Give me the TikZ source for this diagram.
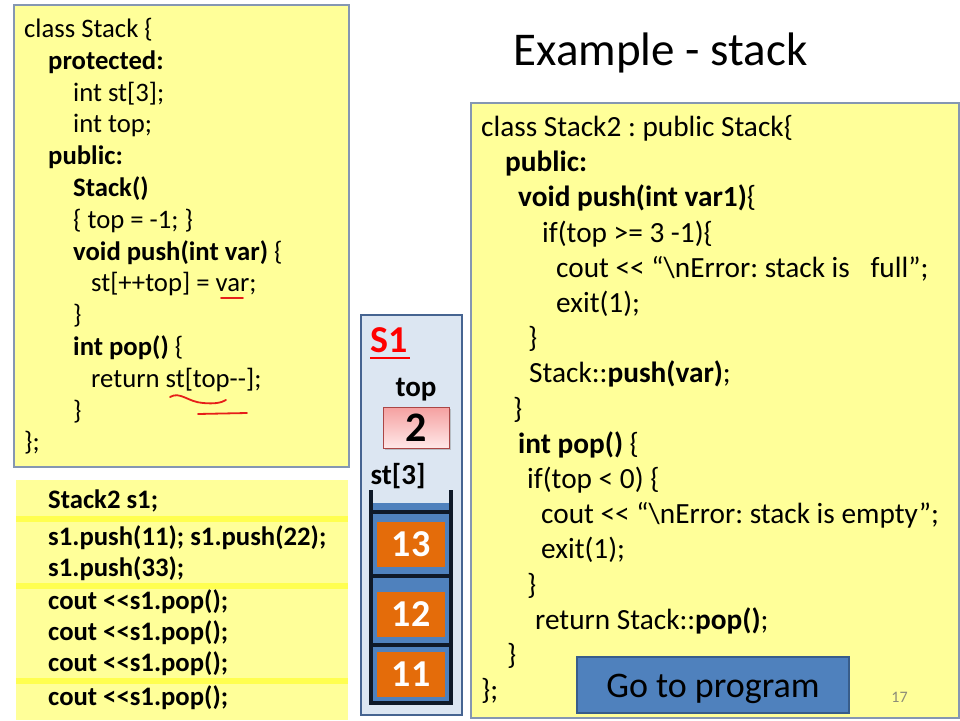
\documentclass[tikz,border=0pt]{standalone}
\usepackage{fontspec}
\newfontfamily\calibri{Carlito}
\usetikzlibrary{positioning,shadows}
\frenchspacing
\definecolor{paleyel}{RGB}{255,255,153}
\definecolor{bandyel}{RGB}{255,255,80}
\definecolor{boxedge}{RGB}{133,151,178}
\definecolor{stackbg}{RGB}{220,230,242}
\definecolor{stackedge}{RGB}{70,100,145}
\definecolor{cellblue}{RGB}{79,129,189}
\definecolor{cellorange}{RGB}{228,108,10}
\definecolor{wallc}{RGB}{15,25,40}
\definecolor{penred}{RGB}{230,30,25}
\definecolor{btnedge}{RGB}{56,93,138}
\definecolor{pinktop}{RGB}{245,160,160}
\definecolor{pinkbot}{RGB}{255,232,232}
\definecolor{pagegray}{RGB}{140,140,120}

\begin{document}
\begin{tikzpicture}[x=1pt,y=-1pt,font=\calibri,
codeln/.style={anchor=base west,inner sep=0pt,font=\calibri\fontsize{26.7}{32}\selectfont},
drvln/.style={codeln,font=\calibri\fontsize{29.3}{35}\selectfont},
useln/.style={codeln,font=\calibri\bfseries\fontsize{26.7}{32}\selectfont},
lbl/.style={anchor=base,inner sep=0pt,font=\calibri\bfseries\fontsize{29}{32}\selectfont},
cell/.style={fill=cellorange,text=white,minimum width=68pt,minimum height=45pt,
 inner sep=0pt,font=\calibri\bfseries\fontsize{38}{40}\selectfont},
topbox/.style={draw={rgb,255:red,170;green,70;blue,70},line width=0.8pt,top color=pinktop,
 bottom color=pinkbot,minimum width=66pt,minimum height=41pt,inner sep=0pt,
 drop shadow={opacity=0.4,shadow xshift=1.5pt,shadow yshift=-2pt},
 font=\calibri\bfseries\fontsize{42}{44}\selectfont},
wall/.style={wallc,line width=4pt},
pen/.style={penred,line width=1.8pt,line cap=round}]
\useasboundingbox (0,0) rectangle (960,720);
\fill[white] (0,0) rectangle (960,720);

% boxes
\draw[boxedge,fill=paleyel,line width=1.2pt] (14,5) rectangle (349,467);
\fill[paleyel] (16,480) rectangle (348,720);
\foreach \y in {518.5,585.5,680.5}
 \fill[bandyel] (16,\y-3) rectangle (348,\y+3);
\draw[boxedge,fill=paleyel,line width=1.2pt] (471,103) rectangle (959,718);
\draw[stackedge,fill=stackbg,line width=2.5pt] (361,315) rectangle (462,715);

\node[anchor=base,inner sep=0pt,font=\calibri\fontsize{47}{50}\selectfont] (title)
 at (660.5,65) {Example - stack};

% class Stack
\foreach \i/\dx/\txt in {0/24/{class Stack \{},1/48/{\textbf{protected:}},
 2/73/{int st[3];},3/73/{int top;},4/48/{\textbf{public:}},5/73/{\textbf{Stack()}},
 6/73/{\{ top = -1; \}},7/73/{\textbf{void push(int var)} \{},8/91/{st[++top] = var;},
 9/73/{\}},10/73/{\textbf{int pop()} \{},11/91/{return st[top--];},12/73/{\}},13/24/{\};}}
 \node[codeln] (cls\i) at (\dx,37.5+31.8*\i) {\txt};

\draw[pen] (221,298) -- (243,298);
\draw[pen] (170,397) .. controls (180,391) and (188,402) .. (203,403)
 .. controls (214,404) and (221,403) .. (226,400);
\draw[pen] (198,414) -- (247,413);

% class Stack2
\foreach \i/\dx/\txt in {0/481/{class Stack2 : public Stack\{},1/505/{\textbf{public:}},
 2/518/{\textbf{void push(int var1)}\{},3/542/{if(top >= 3 -1)\{},
 4/556/{cout << “\textbackslash nError: stack is\hspace{14pt} full”;},5/556/{exit(1);},
 6/528/{\}},7/529/{Stack::\textbf{push(var)};},8/513/{\}},9/518/{\textbf{int pop()} \{},
 10/527/{if(top < 0) \{},11/541/{cout << “\textbackslash nError: stack is empty”;},
 12/541/{exit(1);},13/527/{\}},14/535/{return Stack::\textbf{pop()};},15/507/{\}},
 16/481/{\};}}
 \node[drvln] (drv\i) at (\dx,136.5+35.2*\i) {\txt};

% main
\foreach \i/\y/\txt in {0/508/{Stack2 s1;},1/545/{s1.push(11); s1.push(22);},
 2/576/{s1.push(33);},3/609/{cout <<s1.pop();},4/640/{cout <<s1.pop();},
 5/671/{cout <<s1.pop();},6/705/{cout <<s1.pop();}}
 \node[useln] (use\i) at (48,\y) {\txt};

% object s1
\node[anchor=base west,inner sep=0pt,text=red,font=\calibri\bfseries\fontsize{38}{40}\selectfont]
 (sname) at (370,352) {S1};
\draw[red,line width=2.6pt] (sname.base west) ++(0,6) -- ++(40,0);
\node[lbl] (toplbl) at (416,396) {top};
\node[topbox] (topval) at (416,427.5) {2};
\node[lbl] (stlbl) at (398,484) {st[3]};

\fill[cellblue] (371,503) rectangle (451,703);
\foreach \v/\y in {13/544.5,12/614,11/674.5}
 \node[cell] (cell\v) at (411,\y) {\v};
\foreach \y in {512,576,645}
 \draw[wall] (371,\y) -- (451,\y);
\draw[wall] (371,490) -- (371,703) -- (451,703) -- (451,490);

\node[fill=cellblue,draw=btnedge,line width=1.5pt,minimum width=272pt,minimum height=56pt,
 text height=24pt,text depth=0pt,font=\calibri\fontsize{36}{40}\selectfont] (goprog)
 at (713,685) {Go to program};
\node[anchor=base,inner sep=0pt,text=pagegray,font=\calibri\fontsize{16}{18}\selectfont]
 (pgno) at (899.5,702) {17};
\end{tikzpicture}
\end{document}
